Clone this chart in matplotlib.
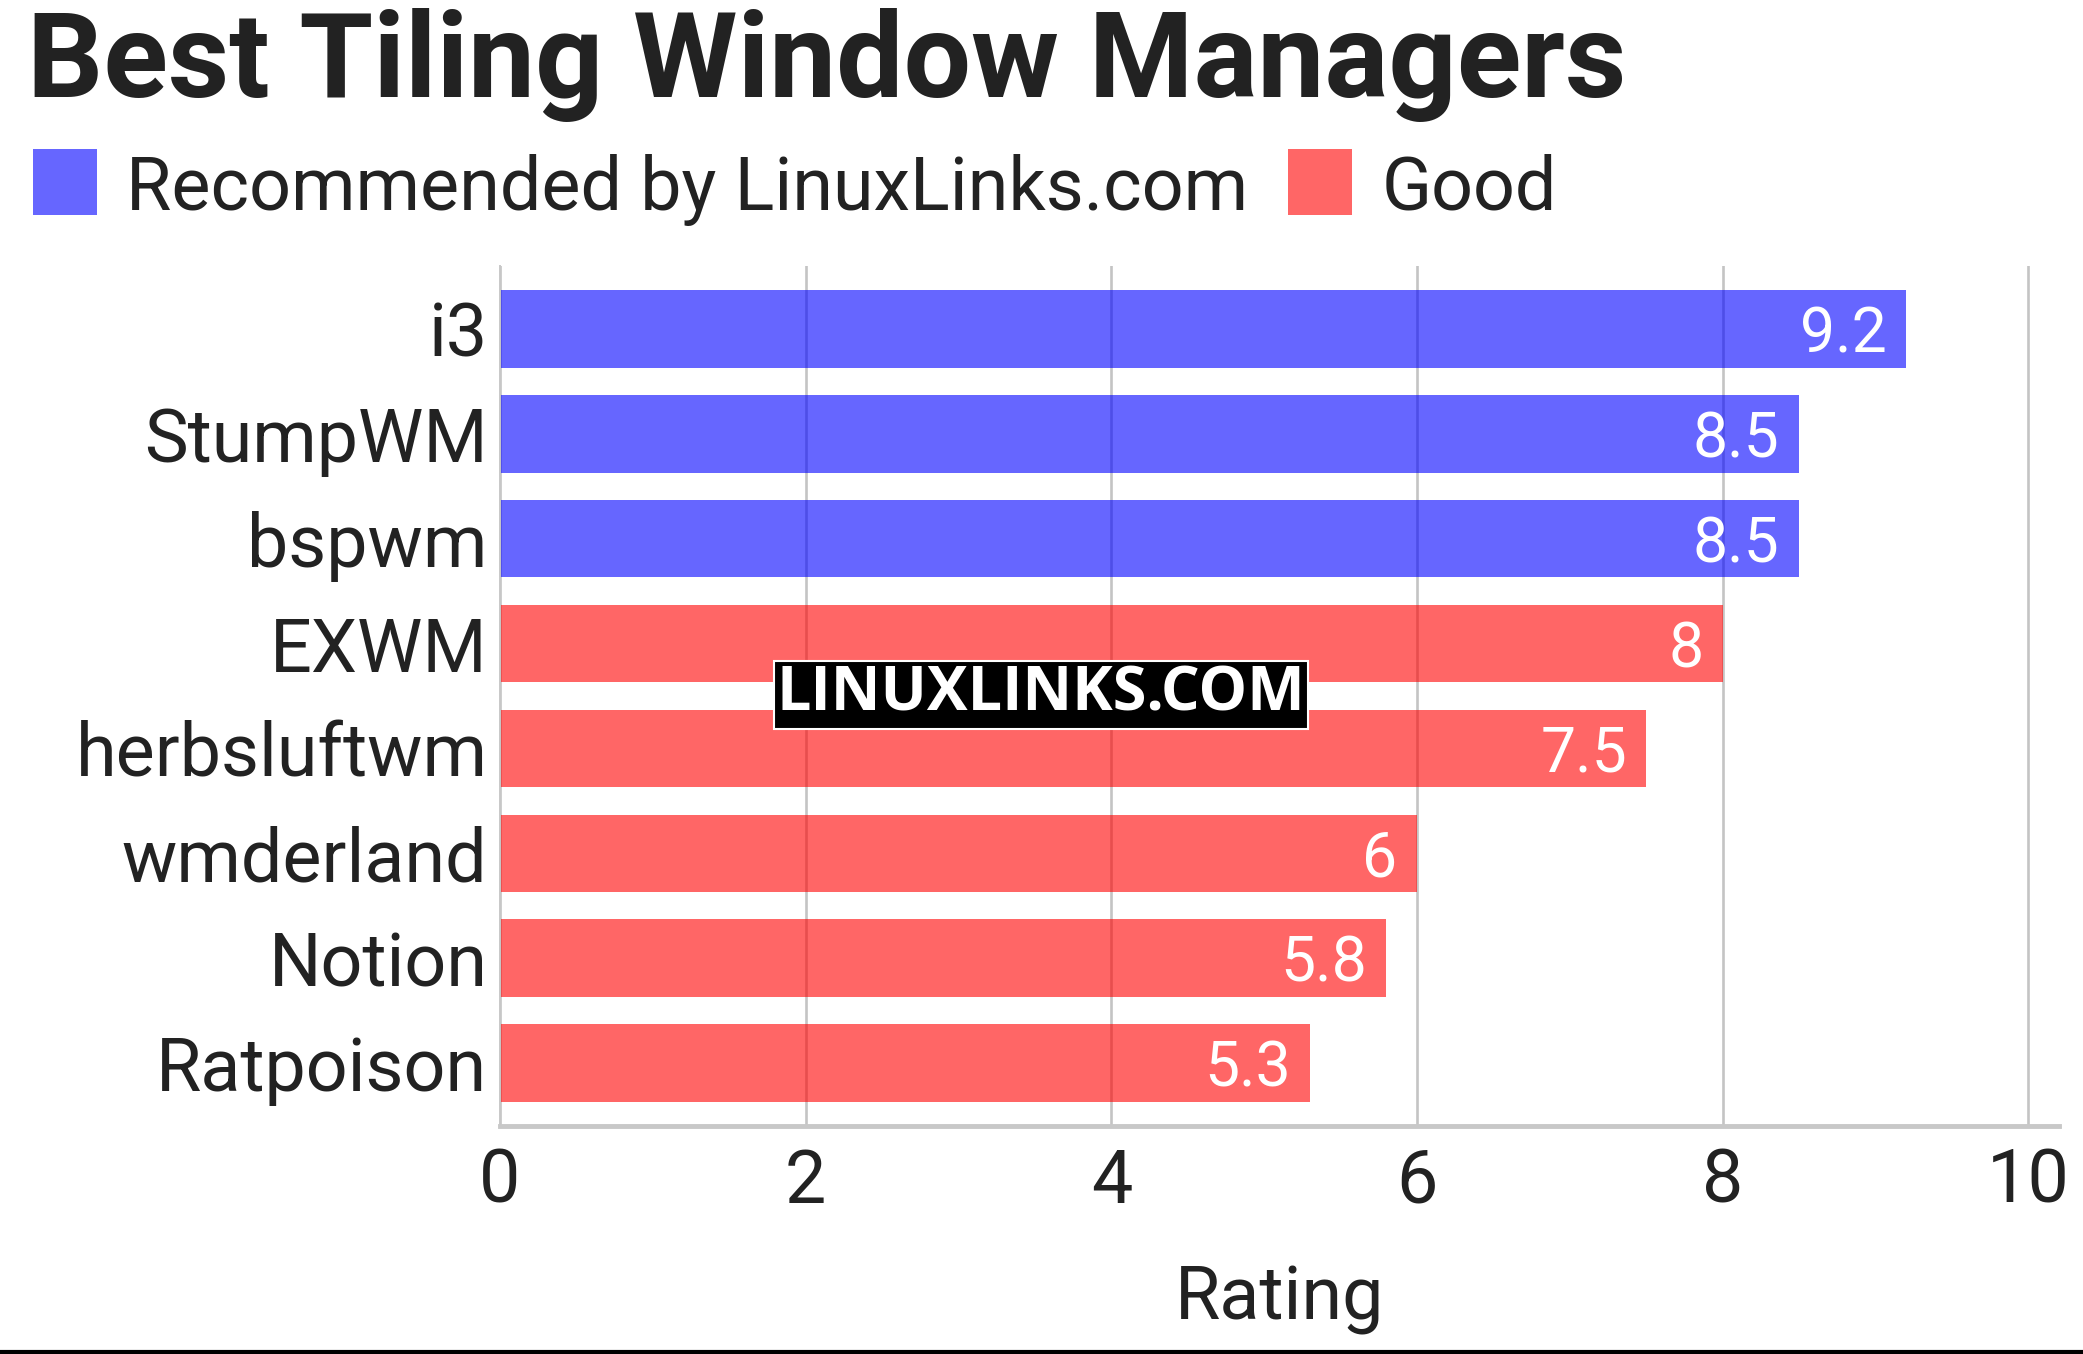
import matplotlib
matplotlib.use("Agg")
import matplotlib.pyplot as plt
from matplotlib.patches import Rectangle
from matplotlib.lines import Line2D

# ---- data ----
names = ['i3', 'StumpWM', 'bspwm', 'EXWM', 'herbsluftwm', 'wmderland', 'Notion', 'Ratpoison']
ratings = [9.2, 8.5, 8.5, 8, 7.5, 6, 5.8, 5.3]
groups = ['Recommended by LinuxLinks.com'] * 3 + ['Good'] * 5
group_order = ['Recommended by LinuxLinks.com', 'Good']
group_colors = {'Recommended by LinuxLinks.com': 'blue', 'Good': 'red'}
xticks = [0, 2, 4, 6, 8, 10]
title = 'Best Tiling Window Managers'
xlabel = 'Rating'
watermark = 'LINUXLINKS.COM'

FONT = ['Roboto', 'DejaVu Sans']
TXT = '#222222'
plt.rcParams['font.family'] = FONT

W, H = 2083, 1354
fig = plt.figure(figsize=(W / 100, H / 100), dpi=100)
fig.patch.set_facecolor('white')

def fx(px):
    return px / W

def fy(py):
    return 1 - py / H

ax = fig.add_axes([fx(500), fy(1126), fx(2059) - fx(500), fy(266) - fy(1126)])

pos = list(range(len(names)))
cols = [group_colors[g] for g in groups]
ax.barh(pos, ratings, height=0.74, color=cols, alpha=0.6, zorder=2)

ax.set_ylim(len(names) - 0.4, -0.6)
ax.set_xlim(0, 10.2)
ax.set_xticks(xticks)
ax.set_xticklabels([str(t) for t in xticks])
ax.set_yticks(pos)
ax.set_yticklabels(names)
ax.tick_params(axis='both', length=0, labelsize=53, colors=TXT)
ax.tick_params(axis='y', pad=9)
ax.tick_params(axis='x', pad=15)
ax.set_axisbelow(True)
ax.grid(axis='x', color='#c4c4c4', linewidth=1.9, zorder=0)
ax.grid(axis='y', visible=False)
for s in ['top', 'right']:
    ax.spines[s].set_visible(False)
ax.spines['left'].set_color('#c8c8c8')
ax.spines['left'].set_linewidth(1.4)
ax.spines['bottom'].set_color('#c8c8c8')
ax.spines['bottom'].set_linewidth(3.5)
ax.set_xlabel(xlabel, fontsize=53, color=TXT, labelpad=33)

for p, v in zip(pos, ratings):
    ax.annotate(f'{v:g}', xy=(v, p), xytext=(-14, 0), textcoords='offset points',
                ha='right', va='center_baseline', color='white', fontsize=45, zorder=3)

# title
fig.text(fx(27), fy(97), title, fontsize=86, fontweight='bold', color=TXT,
         ha='left', va='baseline')

# legend (manual)
renderer = fig.canvas.get_renderer()
x = 33
sq = 64
for g in group_order:
    fig.add_artist(Rectangle((fx(x), fy(215)), fx(sq), fy(149) - fy(215),
                             transform=fig.transFigure, facecolor=group_colors[g],
                             alpha=0.6, edgecolor='none'))
    t = fig.text(fx(x + sq + 29), fy(210), g, fontsize=53, color=TXT,
                 ha='left', va='baseline')
    bb = t.get_window_extent(renderer=renderer)
    x = bb.x1 + 40

# watermark
fig.text(fx(1041), fy(695), watermark, fontsize=44, fontweight='bold',
         family=['Open Sans', 'DejaVu Sans'], color='white', ha='center', va='center',
         bbox=dict(facecolor='black', edgecolor='white', linewidth=1.5, pad=2), zorder=10)

# bottom line
fig.add_artist(Line2D([0, 1], [fy(1352), fy(1352)], transform=fig.transFigure,
                      color='black', linewidth=3))

fig.savefig('out.png', dpi=100, facecolor='white')
